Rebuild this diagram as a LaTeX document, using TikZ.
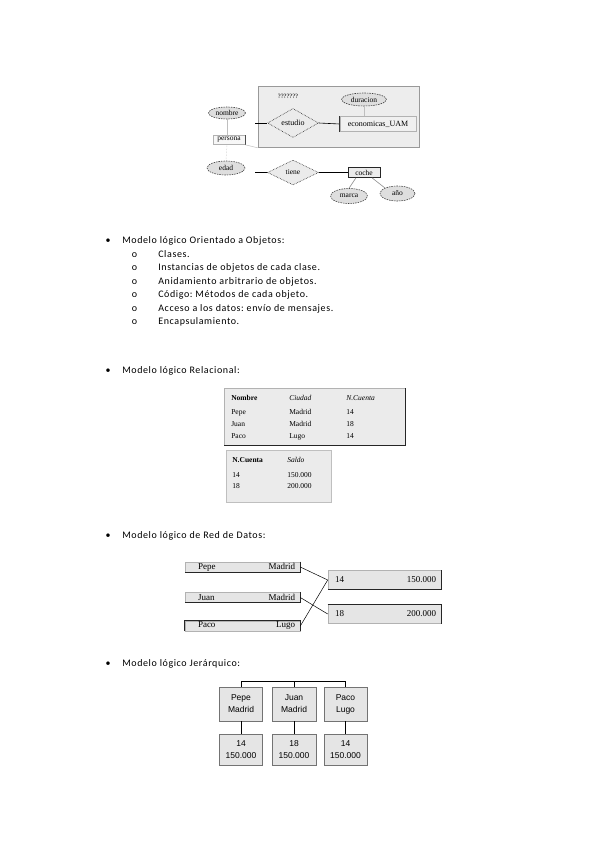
\documentclass[tikz,border=0pt]{standalone}
\usepackage{fontspec}
\setmainfont{Carlito}[LetterSpace=6]
\newfontfamily\timesf{Liberation Serif}
\newfontfamily\arialf{Liberation Sans}
\usetikzlibrary{shapes.geometric,positioning}
\frenchspacing

\newcommand{\erfont}{\timesf\fontsize{7.5}{8}\selectfont}
\newcommand{\redfont}{\timesf\fontsize{9}{10}\selectfont}

\tikzset{
  atributo/.style={ellipse, draw=black!75, dash pattern=on 1.5pt off 1pt, fill=black!13,
    inner sep=0pt, minimum width=37pt, minimum height=13pt, font=\erfont},
  relacion/.style={diamond, draw=black!85, densely dotted, fill=black!8, inner sep=0pt,
    minimum width=51pt, minimum height=27pt, font=\erfont},
  titulo/.style={anchor=base west, inner sep=0pt, font=\fontsize{10}{11}\selectfont},
  punto/.style={anchor=base, inner sep=0pt, font=\fontsize{10}{11}\selectfont},
  registro/.style={rectangle, draw=black!30, fill=black!10, inner ysep=0pt, inner xsep=5pt,
    minimum height=10pt, text width=105pt, font=\redfont},
  cuenta/.style={rectangle, draw=black!30, fill=black!10, inner ysep=0pt, inner xsep=5pt,
    minimum height=19pt, text width=103pt, font=\redfont},
  nodo/.style={rectangle, draw=black!55, fill=black!10, inner sep=1pt, minimum width=43pt,
    align=center, font=\arialf\fontsize{8.5}{12}\selectfont},
  sombra/.style={line width=0.9pt, black!85},
  tenue/.style={line width=0.5pt, black!25},
}

\begin{document}
\begin{tikzpicture}[x=1pt,y=-1pt,line width=0.6pt]
\useasboundingbox (0,0) rectangle (599,848);
% ---------- entidad-relacion ----------
\node[rectangle, draw=black!40, fill=black!7, minimum width=161pt, minimum height=61pt,
  inner sep=0pt] (panel) at (338.5,117) {};
\node[font=\timesf\fontsize{6.5}{7}\selectfont, inner sep=0pt] (qq) at (288,96) {???????};
\node[atributo, minimum width=45pt] (duracion) at (364,99.5) {duracion};
\node[rectangle, draw=black!30, fill=black!6, minimum width=76pt, minimum height=15pt,
  inner sep=0pt, font=\timesf\fontsize{8}{9}\selectfont] (econ) at (378,124) {economicas\_UAM};
\node[relacion, minimum height=29pt, font=\timesf\fontsize{8}{9}\selectfont] (estudio)
  at (293,123) {estudio};
\node[atributo, minimum height=12pt] (nombre) at (227,113) {nombre};
\node[rectangle, draw=black!30, fill=black!3, minimum width=32pt, minimum height=9pt,
  inner sep=0pt, font=\erfont] (persona) at (229,140) {persona};
\draw[black!70] (persona.north east) -- (persona.south east);
\node[atributo, minimum width=38pt, minimum height=14pt] (edad) at (226,168) {edad};
\node[relacion, minimum height=25pt] (tiene) at (293,172.5) {tiene};
\node[rectangle, draw=black!85, fill=black!8, minimum width=32pt, minimum height=10pt,
  inner sep=0pt, font=\erfont] (coche) at (364,172.5) {coche};
\node[atributo, minimum height=15pt] (marca) at (349,196) {marca};
\node[atributo, minimum width=35pt, minimum height=15pt] (anio) at (397.5,193.5) {año};
\coordinate (estpie) at (255,123);
\coordinate (tienepie) at (255,172.5);
% conexiones
\draw[tenue] (nombre.south) -- (nombre.south |- persona.north);
\draw[tenue, densely dotted] (nombre.south |- persona.south) -- (edad.north);
\draw[tenue] (persona.south east) -- (panel.south west);
\draw[tenue] (duracion.south) -- (econ.north -| duracion.south);
\draw (estpie) -- (estudio.west);
\draw (estudio.east) -- (econ.west);
\draw[black!80] (econ.north west) -- (econ.south west);
\draw (tienepie) -- (tiene.west);
\draw (tiene.east) -- (coche.west);
\draw[black!45] ([xshift=-8pt]coche.south) -- (marca.north);
\draw[black!45] ([xshift=8pt]coche.south) -- (anio.north west);
% ---------- orientado a objetos ----------
\node[punto] (b1) at (108,243) {•};
\node[titulo] (h1) at (122,243) {Modelo lógico Orientado a Objetos:};
\foreach \txt [count=\i] in {Clases., Instancias de objetos de cada clase.,
  Anidamiento arbitrario de objetos., Código: Métodos de cada objeto.,
  Acceso a los datos: envío de mensajes., Encapsulamiento.} {
  \node[punto] (o\i) at (134.5,243.5+13.5*\i) {o};
  \node[titulo] (s\i) at (158,243.5+13.5*\i) {\txt};
}
% ---------- relacional ----------
\node[punto] (b2) at (108,373) {•};
\node[titulo] (h2) at (122,373) {Modelo lógico Relacional:};
\node[rectangle, draw=black!30, fill=black!8, minimum width=181pt, minimum height=57pt,
  anchor=north west, inner sep=0pt] (marco1) at (224,388) {};
\draw[sombra] (marco1.north east) -- (marco1.south east) -- (marco1.south west);
\node[anchor=base west, inner sep=0pt, font=\timesf\fontsize{7.5}{12}\selectfont] (tabla1)
  at (231,400) {\begin{tabular}[t]{@{}p{46pt}p{45pt}l@{}}
  \textbf{Nombre} & \textit{Ciudad} & \textit{N.Cuenta}\\[2pt]
  Pepe & Madrid & 14\\ Juan & Madrid & 18\\ Paco & Lugo & 14
  \end{tabular}};
\node[rectangle, draw=black!25, fill=black!8, minimum width=105pt, minimum height=52pt,
  anchor=north west, inner sep=0pt] (marco2) at (226,450) {};
\node[anchor=base west, inner sep=0pt, font=\timesf\fontsize{7.5}{11}\selectfont] (tabla2)
  at (232,462) {\begin{tabular}[t]{@{}p{43pt}l@{}}
  \textbf{N.Cuenta} & \textit{Saldo}\\[4pt]
  14 & 150.000\\ 18 & 200.000
  \end{tabular}};
% ---------- red de datos ----------
\node[punto] (b3) at (108,538) {•};
\node[titulo] (h3) at (122,538) {Modelo lógico de Red de Datos:};
\node[registro] (pepe) at (242.5,567) {\hspace*{8pt}Pepe\hfill Madrid};
\node[registro] (juan) at (242.5,597.5) {\hspace*{8pt}Juan\hfill Madrid};
\node[registro] (paco) at (242.5,626) {\hspace*{8pt}Paco\hfill Lugo\hspace*{6pt}};
\node[cuenta] (c14) at (384.5,580) {\hspace*{2pt}14\hfill 150.000};
\node[cuenta] (c18) at (384.5,614) {\hspace*{2pt}18\hfill 200.000};
\draw[sombra] (pepe.north east) -- (pepe.south east) -- (pepe.south west);
\draw[sombra] (juan.north east) -- (juan.south east) -- (juan.south west);
\draw[sombra] (paco.south west) -- (paco.north west) -- (paco.north east) -- (paco.south east);
\draw[sombra] (c14.north east) -- (c14.south east) -- (c14.south west);
\draw[sombra] (c18.north west) -- (c18.north east) -- (c18.south east);
\draw[line width=0.5pt] (pepe.east) -- (c14.west);
\draw[line width=0.5pt] (juan.east) -- (c18.west);
\draw[line width=0.5pt] (paco.east) -- (c14.west);
% ---------- jerarquico ----------
\node[punto] (b4) at (108,666.5) {•};
\node[titulo] (h4) at (122,666.5) {Modelo lógico Jerárquico:};
\node[nodo, minimum height=34pt] (pp) at (241,704) {Pepe\\Madrid};
\node[nodo, minimum height=34pt, minimum width=44pt] (jp) at (294,704) {Juan\\Madrid};
\node[nodo, minimum height=34pt] (kp) at (345.5,704) {Paco\\Lugo};
\node[nodo, minimum height=31pt] (pc) at (241,749.5) {14\\150.000};
\node[nodo, minimum height=31pt, minimum width=44pt] (jc) at (294,749.5) {18\\150.000};
\node[nodo, minimum height=31pt] (kc) at (345.5,749.5) {14\\150.000};
\coordinate (barra) at (0,681);
\draw (pp.north) -- (pp.north |- barra) -- (kp.north |- barra) -- (kp.north);
\draw (jp.north) -- (jp.north |- barra);
\draw (pp.south) -- (pc.north);
\draw (jp.south) -- (jc.north);
\draw (kp.south) -- (kc.north);
\end{tikzpicture}
\end{document}
